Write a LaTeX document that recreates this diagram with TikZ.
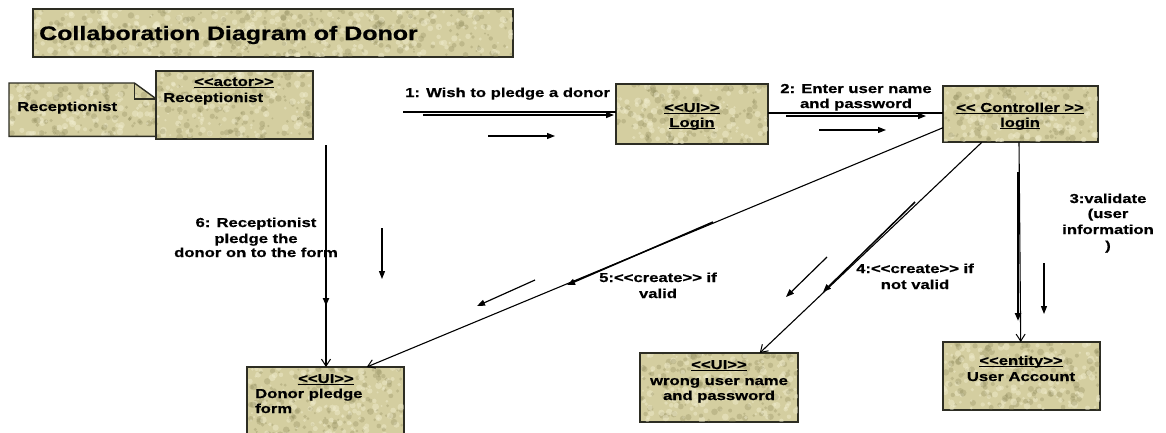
\documentclass[tikz,border=0pt]{standalone}
\usepackage{fontspec}
\setmainfont{Liberation Sans}[FakeStretch=1.28,Ligatures=TeXOff,BoldFeatures={FakeBold=0.6}]
\usetikzlibrary{arrows.meta,calc}
\definecolor{boxfill}{RGB}{212,206,160}
\definecolor{boxline}{RGB}{45,45,35}
\definecolor{texdark}{RGB}{140,136,90}
\definecolor{texlight}{RGB}{242,238,208}
\newcommand\ulx[1]{\setbox0\hbox{#1}\rlap{\rule[-2.2pt]{\wd0}{1.1pt}}\box0}
% random stone-like texture inside a box node: name, width, height
\newcommand\texturebox[3]{%
  \begin{scope}
    \clip (#1.north west) rectangle (#1.south east);
    \pgfmathsetmacro\nd{int(#2/70*#3)}
    \foreach \k in {1,...,\nd}{%
      \pgfmathsetmacro\rx{rnd*#2}\pgfmathsetmacro\ry{rnd*#3}\pgfmathsetmacro\rr{1+2.5*rnd}
      \fill[texdark,opacity=.3] ($(#1.north west)+(\rx,\ry)$) circle[radius=\rr];
      \pgfmathsetmacro\rx{rnd*#2}\pgfmathsetmacro\ry{rnd*#3}\pgfmathsetmacro\rr{1+2.5*rnd}
      \fill[texlight,opacity=.45] ($(#1.north west)+(\rx,\ry)$) circle[radius=\rr];
    }
  \end{scope}
  \draw[boxline,line width=1.4pt] (#1.north west) rectangle (#1.south east);
}
\begin{document}
\begin{tikzpicture}[x=1pt,y=-1pt,
 box/.style={draw=boxline,fill=boxfill,line width=1.4pt,inner sep=0pt,anchor=north west},
 txt/.style={inner sep=0pt,font=\fontsize{13}{15}\selectfont\bfseries},
 conn/.style={line width=1.1pt},
 openarr/.style={conn,-{Straight Barb[length=7pt,width=9pt,line width=1pt]}},
 msg/.style={line width=1.5pt,-{Triangle[length=8pt,width=6pt]}},
 small/.style={line width=1.2pt,-{Triangle[length=8pt,width=6pt]}},
]
\pgfmathsetseed{7}
\useasboundingbox (0,0) rectangle (1166,432);
\fill[white] (0,0) rectangle (1166,432);
\clip (0,0) rectangle (1166,432);

% title
\node[box,minimum width=479pt,minimum height=47pt] (title) at (33,9) {};
\texturebox{title}{479}{47}
\node[txt,anchor=base west,font=\fontsize{19.5}{22}\selectfont\bfseries] (titletxt) at (39,40) {Collaboration Diagram of Donor};

% note
\node[inner sep=0pt,anchor=north west,minimum width=147pt,minimum height=53pt] (note) at (9,83) {};
\fill[boxfill]
  (note.south west) -- (note.north west) -- ([xshift=-22pt]note.north east)
  -- ([yshift=-16pt]note.north east) -- (note.south east) -- cycle;
\begin{scope}
  \clip (note.south west) -- (note.north west) -- ([xshift=-22pt]note.north east)
  -- ([yshift=-16pt]note.north east) -- (note.south east) -- cycle;
  \foreach \k in {1,...,110}{%
    \pgfmathsetmacro\rx{rnd*147}\pgfmathsetmacro\ry{rnd*53}\pgfmathsetmacro\rr{1+2.5*rnd}
    \fill[texdark,opacity=.3] ($(note.north west)+(\rx,\ry)$) circle[radius=\rr];
    \pgfmathsetmacro\rx{rnd*147}\pgfmathsetmacro\ry{rnd*53}\pgfmathsetmacro\rr{1+2.5*rnd}
    \fill[texlight,opacity=.45] ($(note.north west)+(\rx,\ry)$) circle[radius=\rr];
  }
\end{scope}
\draw[boxline,line width=1.4pt]
  (note.south west) -- (note.north west) -- ([xshift=-22pt]note.north east)
  -- ([yshift=-16pt]note.north east) -- (note.south east) -- cycle;
\draw[boxline,line width=1.2pt] ([xshift=-22pt]note.north east) |- ([yshift=-16pt]note.north east);
\node[txt,anchor=base west] (notetxt) at (17,111) {Receptionist};

% actor
\node[box,minimum width=156pt,minimum height=67pt] (actor) at (156,71) {};
\texturebox{actor}{156}{67}
\node[txt,anchor=base] (actorst) at (234,86) {\ulx{<<actor>>}};
\node[txt,anchor=base west] (actornm) at (163,102) {Receptionist};

% login
\node[box,minimum width=151pt,minimum height=59pt] (login) at (616,84) {};
\texturebox{login}{151}{59}
\node[txt,anchor=base] (loginst) at (692,112) {\ulx{<<UI>>}};
\node[txt,anchor=base] (loginnm) at (692,127) {\ulx{Login}};

% controller
\node[box,minimum width=154pt,minimum height=55pt] (ctrl) at (943,86) {};
\texturebox{ctrl}{154}{55}
\node[txt,anchor=base] (ctrlst) at (1020,112) {\ulx{<< Controller >>}};
\node[txt,anchor=base] (ctrlnm) at (1020,127) {\ulx{login}};

% donor pledge form
\node[box,minimum width=156pt,minimum height=72pt] (donor) at (247,367) {};
\texturebox{donor}{156}{72}
\node[txt,anchor=base] (donorst) at (326,383) {\ulx{<<UI>>}};
\node[txt,anchor=base west] (donornm1) at (255,398) {Donor pledge};
\node[txt,anchor=base west] (donornm2) at (255,413) {form};

% wrong user name
\node[box,minimum width=157pt,minimum height=68pt] (wrong) at (640,353) {};
\texturebox{wrong}{157}{68}
\node[txt,anchor=base] (wrongst) at (719,369) {\ulx{<<UI>>}};
\node[txt,anchor=base] (wrongnm1) at (719,385) {wrong user name};
\node[txt,anchor=base] (wrongnm2) at (719,400) {and password};

% user account
\node[box,minimum width=156pt,minimum height=67pt] (acct) at (943,342) {};
\texturebox{acct}{156}{67}
\node[txt,anchor=base] (acctst) at (1021,365) {\ulx{<<entity>>}};
\node[txt,anchor=base] (acctnm) at (1021,381) {User Account};

% labels
\node[txt,anchor=base west] (l1) at (405,97) {1: Wish to pledge a donor};
\node[txt,anchor=base] (l2a) at (856,93) {2: Enter user name};
\node[txt,anchor=base] (l2b) at (856,108) {and password};
\node[txt,anchor=base] (l3a) at (1108,203) {3:validate};
\node[txt,anchor=base] (l3b) at (1108,218) {(user};
\node[txt,anchor=base] (l3c) at (1108,234) {information};
\node[txt,anchor=base] (l3d) at (1108,250) {)};
\node[txt,anchor=base] (l4a) at (915,273) {4:<<create>> if};
\node[txt,anchor=base] (l4b) at (915,289) {not valid};
\node[txt,anchor=base] (l5a) at (658,282) {5:<<create>> if};
\node[txt,anchor=base] (l5b) at (658,298) {valid};
\node[txt,anchor=base] (l6a) at (256,227) {6: Receptionist};
\node[txt,anchor=base] (l6b) at (256,243) {pledge the};
\node[txt,anchor=base] (l6c) at (256,257) {donor on to the form};

% free ends
\coordinate (s1) at (403,112);
\coordinate (s6) at (326,145);

% connector 1
\draw[conn] (s1) -- (s1 -| login.west);
\draw[msg] (423,115) -- (614,115);
\draw[small] (488,136) -- (555,136);

% connector 2
\draw[conn] (login.east |- 0,113) -- (ctrl.west |- 0,113);
\draw[msg] (786,116) -- (926,116);
\draw[small] (819,130) -- (886,130);

% connector 3
\draw[openarr] (ctrl.south -| 1019,0) -- ([xshift=-1pt]acct.north);
\draw[msg,line width=2pt] (1018,172) -- (1018,321);
\draw[small] (1044,263) -- (1044,314);

% connector 4
\draw[openarr] ([xshift=-39pt]ctrl.south) -- ([xshift=40.5pt]wrong.north);
\draw[msg] (915,202) -- (823,292);
\draw[small] (827,257) -- (786,297);

% connector 5
\draw[openarr] ([yshift=-13.5pt]ctrl.west) -- ([xshift=41pt]donor.north);
\draw[msg] (713,222) -- (567,285);
\draw[small] (535,280) -- (477,306);

% connector 6
\draw[openarr] (s6) -- (s6 |- donor.north);
\draw[msg,line width=2pt] (326,187) -- (326,306);
\draw[small] (382,228) -- (382,279);
\end{tikzpicture}
\end{document}
